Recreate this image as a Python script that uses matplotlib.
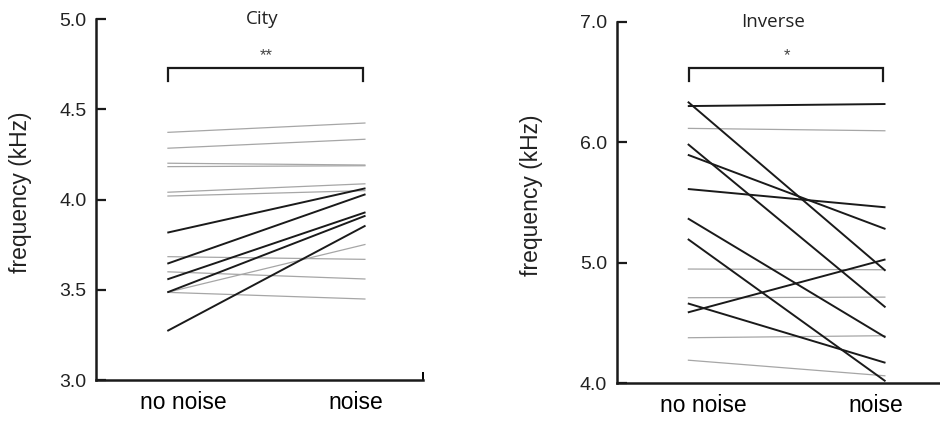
import matplotlib
matplotlib.use("Agg")
import matplotlib.pyplot as plt

plt.rcParams["font.family"] = ["Liberation Sans", "DejaVu Sans"]

conditions = ["no noise", "noise"]

# City birds: grey = non-significant individuals, black = significant
city_gray_quiet = [4.373, 4.285, 4.202, 4.183, 4.041, 4.020, 3.684, 3.600, 3.486, 3.486]
city_gray_noise = [4.425, 4.335, 4.192, 4.188, 4.088, 4.050, 3.669, 3.560, 3.752, 3.449]
city_black_quiet = [3.817, 3.645, 3.558, 3.486, 3.272]
city_black_noise = [4.063, 4.030, 3.930, 3.911, 3.856]

# Inverse birds
inv_gray_quiet = [6.115, 4.948, 4.710, 4.378, 4.192]
inv_gray_noise = [6.095, 4.942, 4.715, 4.395, 4.062]
inv_black_quiet = [6.336, 6.300, 5.985, 5.896, 5.612, 5.368, 5.197, 4.663, 4.588]
inv_black_noise = [4.934, 6.317, 4.630, 5.280, 5.460, 4.381, 4.017, 4.170, 5.028]

panels = [
    {"title": "City", "stars": "**", "ylim": (3.0, 5.0), "yticks": [3.0, 3.5, 4.0, 4.5, 5.0],
     "gray": (city_gray_quiet, city_gray_noise), "black": (city_black_quiet, city_black_noise),
     "bracket": (4.658, 4.728), "rect": [0.1021, 0.0995, 0.3479, 0.8548],
     "title_x": 0.508, "ylabel_x": -0.196, "end_tick": True},
    {"title": "Inverse", "stars": "*", "ylim": (4.0, 7.0), "yticks": [4.0, 5.0, 6.0, 7.0],
     "gray": (inv_gray_quiet, inv_gray_noise), "black": (inv_black_quiet, inv_black_noise),
     "bracket": (6.508, 6.613), "rect": [0.656, 0.0917, 0.347, 0.8569],
     "title_x": 0.479, "ylabel_x": -0.227, "end_tick": False},
]

fig = plt.figure(figsize=(9.4, 4.22), dpi=100)

for p in panels:
    ax = fig.add_axes(p["rect"])
    xlim = (-0.36, 1.29)

    for a, b in zip(*p["gray"]):
        ax.plot([0, 1], [a, b], color="#a6a6a6", lw=0.9, solid_capstyle="butt")
    for a, b in zip(*p["black"]):
        ax.plot([0, 1], [a, b], color="#1a1a1a", lw=1.4, solid_capstyle="butt")

    # significance bracket
    lo, hi = p["bracket"]
    ax.plot([0.005, 0.005, 0.985, 0.985], [lo, hi, hi, lo], color="#1a1a1a", lw=1.6,
            solid_joinstyle="miter", clip_on=False)
    ax.text(0.5, hi + (p["ylim"][1] - p["ylim"][0]) * 0.036, p["stars"], ha="center", va="center",
            fontsize=12, color="#444444")

    ax.set_xlim(*xlim)
    ax.set_ylim(*p["ylim"])
    ax.set_yticks(p["yticks"])
    ax.set_yticklabels([f"{t:.1f}" for t in p["yticks"]])
    ax.set_xticks([0.08, 0.95])
    ax.set_xticklabels(conditions, fontsize=16.5)
    ax.tick_params(axis="x", length=0, pad=8)
    ax.tick_params(axis="y", direction="in", length=7, width=1.6, labelsize=14, pad=7,
                   color="#1a1a1a", labelcolor="#222222")
    if p["end_tick"]:
        ax.set_xticks([xlim[1]], minor=True)
        ax.tick_params(axis="x", which="minor", direction="in", length=6, width=1.4)

    for side in ["top", "right"]:
        ax.spines[side].set_visible(False)
    for side in ["left", "bottom"]:
        ax.spines[side].set_linewidth(1.8)
        ax.spines[side].set_color("#1a1a1a")

    ax.set_ylabel("frequency (kHz)", fontsize=16.5, color="#222222")
    ax.yaxis.set_label_coords(p["ylabel_x"], 0.52)
    ax.text(p["title_x"], 1.0, p["title"], transform=ax.transAxes, ha="center", va="center",
            fontsize=13.5, color="#222222", family=["Open Sans", "DejaVu Sans"])

fig.savefig("out.png", dpi=100)
